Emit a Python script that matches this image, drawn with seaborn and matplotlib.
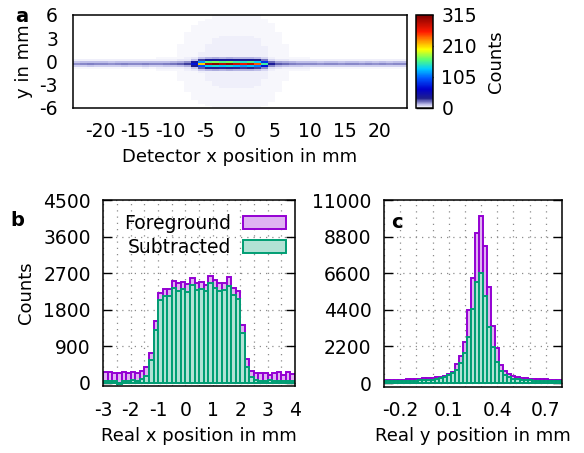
import numpy as np
import pandas as pd
import matplotlib
matplotlib.use("Agg")
import matplotlib.pyplot as plt
import seaborn as sns
from matplotlib.colors import LinearSegmentedColormap
from matplotlib.patches import Patch

sns.set_style("white")
plt.rcParams["font.family"] = ["DejaVu Sans"]
for k in ["text.color", "axes.labelcolor", "xtick.color", "ytick.color", "axes.edgecolor"]:
    plt.rcParams[k] = "black"
FS = 13
TS = 13.5
plt.rcParams["font.size"] = FS

# ---------------- panel a : detector image ----------------
a_x_lim = (-24, 24)
a_y_lim = (-6, 6)
a_xticks = [-20, -15, -10, -5, 0, 5, 10, 15, 20]
a_yticks = [-6, -3, 0, 3, 6]
cbar_ticks = [0, 105, 210, 315]
# peak counts along the beam stripe, 1 mm columns from -24 to 24
line_counts = [16, 17, 18, 17, 17, 16, 17, 18, 17, 17, 19, 17, 17, 18, 19, 21, 26,
               70, 210, 290, 305, 285, 300, 275, 260, 280, 240, 150, 35,
               22, 20, 18, 17, 17, 17, 16, 17, 17, 16, 17, 17, 16, 17, 16, 17, 16, 17, 17]
# relative stripe profile, 0.25 mm rows from -6 (bottom) to 6 (top)
stripe_rows = [0] * 19 + [0.03, 0.1, 0.45, 1.0, 0.55, 0.12, 0.03] + [0] * 22
# faint diffuse background
halo_cols = [0.6, 0.6, 0.6, 0.6, 0.6, 0.6, 0.6, 0.6, 0.6, 0.6, 0.6, 0.7, 0.8, 1.0, 1.2, 1.5,
             1.8, 2.2, 2.6, 3.0, 3.2, 3.4, 3.4, 3.4, 3.4, 3.4, 3.2, 2.8, 2.3, 1.8, 1.5, 1.2,
             1.0, 0.8, 0.7, 0.6, 0.6, 0.6, 0.6, 0.6, 0.6, 0.6, 0.6, 0.6, 0.6, 0.6, 0.6, 0.6]
halo_rows = [0.4, 0.45, 0.5, 0.55, 0.6, 0.62, 0.65, 0.68, 0.7, 0.72, 0.75, 0.78,
             0.8, 0.82, 0.85, 0.88, 0.9, 0.92, 0.95, 1, 1, 1, 1, 1,
             1, 1, 1, 1, 0.95, 0.92, 0.9, 0.88, 0.85, 0.82, 0.8, 0.78,
             0.75, 0.72, 0.7, 0.68, 0.65, 0.62, 0.6, 0.55, 0.5, 0.45, 0.4, 0.4]

# ---------------- panel b : real x ----------------
b_range = (-3, 4)
b_nbins = 42
b_fore = [255, 255, 240, 240, 255, 240, 275, 240, 292, 385, 730, 1510, 2205, 2300,
          2300, 2510, 2450, 2475, 2430, 2575, 2450, 2475, 2410, 2630, 2520, 2450,
          2450, 2615, 2330, 2260, 1420, 580, 300, 250, 240, 240, 200, 240, 255, 200,
          255, 220]
b_sub = [50, 50, 45, -40, 55, 50, 75, 55, 90, 170, 555, 1310, 2040, 2140, 2125,
         2330, 2270, 2300, 2245, 2395, 2290, 2300, 2260, 2450, 2330, 2270, 2290,
         2385, 2165, 2060, 1220, 390, 150, 70, 55, 55, 60, 50, 45, 55, 50, 45]
b_xticks = [-3, -2, -1, 0, 1, 2, 3, 4]
b_yticks = [0, 900, 1800, 2700, 3600, 4500]

# ---------------- panel c : real y ----------------
c_first_center = -0.3
c_binwidth = 0.025
c_fore = [160, 170, 180, 190, 200, 210, 220, 235, 250, 265, 280, 300, 320, 350, 390,
          440, 540, 680, 1120, 1620, 2480, 4390, 6290, 9040, 10050, 8240, 5750, 3400,
          2100, 1100, 700, 520, 420, 360, 320, 290, 270, 250, 240, 230, 215, 200, 190,
          180, 170]
c_sub = [100, 105, 110, 115, 120, 125, 130, 140, 150, 160, 175, 190, 210, 240, 280,
         380, 480, 580, 780, 1180, 1820, 2790, 4430, 6090, 6590, 5230, 3390, 2180,
         1280, 740, 480, 340, 260, 220, 190, 170, 160, 150, 140, 135, 130, 125, 120,
         115, 110]
c_xlim = (-0.3, 0.8)
c_xticks = [-0.2, 0.1, 0.4, 0.7]
c_yticks = [0, 2200, 4400, 6600, 8800, 11000]

purple = "#9400d3"
purple_face = "#dfb2f2"
green = "#009e73"
green_face = "#b2e2d5"

fig = plt.figure(figsize=(5.84, 4.53), dpi=100)
W, H = 584, 453


def ax_px(x0, y0, x1, y1):
    return fig.add_axes([x0 / W, 1 - y1 / H, (x1 - x0) / W, (y1 - y0) / H])


# ---- panel a
axa = ax_px(72.7, 15, 407.3, 107.7)
cax = ax_px(416, 15, 433, 107.7)
cmap = LinearSegmentedColormap.from_list("det", [
    (0.0, (1, 1, 1)), (0.03, (0.76, 0.76, 0.92)), (0.1, (0.12, 0.12, 0.55)),
    (0.2, (0.0, 0.0, 0.8)), (0.32, (0.0, 0.35, 1.0)), (0.42, (0.0, 0.8, 1.0)),
    (0.52, (0.35, 1.0, 0.45)), (0.63, (1.0, 1.0, 0.0)), (0.72, (1.0, 0.6, 0.0)),
    (0.82, (1.0, 0.1, 0.0)), (1.0, (0.5, 0.0, 0.0))])

x_edges = np.arange(a_x_lim[0], a_x_lim[1] + 0.5, 1.0)
y_edges = np.arange(a_y_lim[0], a_y_lim[1] + 0.125, 0.25)
xc = (x_edges[:-1] + x_edges[1:]) / 2
yc = (y_edges[:-1] + y_edges[1:]) / 2
Z = np.outer(stripe_rows, line_counts) + np.outer(halo_rows, halo_cols)
XX, YY = np.meshgrid(xc, yc)
dfa = pd.DataFrame({"x": XX.ravel(), "y": YY.ravel(), "w": Z.ravel()})
sns.histplot(data=dfa, x="x", y="y", weights="w", bins=[x_edges, y_edges],
             cmap=cmap, vmin=0, vmax=315, cbar=True, cbar_ax=cax, ax=axa)
axa.set_xlim(*a_x_lim)
axa.set_ylim(*a_y_lim)
axa.set_xticks(a_xticks)
axa.set_xticklabels([str(v) for v in a_xticks])
axa.set_yticks(a_yticks)
axa.set_yticklabels([str(v) for v in a_yticks])
axa.tick_params(axis="y", direction="out", length=5.5, width=1, labelsize=TS, pad=5)
axa.tick_params(axis="x", direction="out", length=6.5, width=1, labelsize=TS, pad=4)
axa.set_xlabel("Detector x position in mm", fontsize=FS, labelpad=5)
axa.set_ylabel("y in mm", fontsize=FS, labelpad=5)
for s in axa.spines.values():
    s.set_linewidth(1.1)
    s.set_color("black")
cax.set_yticks(cbar_ticks)
cax.set_yticklabels([str(v) for v in cbar_ticks])
cax.tick_params(direction="in", length=12.2, width=1, labelsize=TS, pad=6)
cax.set_ylabel("Counts", fontsize=FS, labelpad=7)
for s in cax.spines.values():
    s.set_linewidth(1.1)
    s.set_color("black")
fig.text(22 / W, 1 - 16 / H, "a", fontsize=FS + 1, fontweight="bold", ha="center", va="center")


def style_hist(ax):
    for s in ax.spines.values():
        s.set_linewidth(1.1)
        s.set_color("black")
    ax.tick_params(axis="y", which="both", direction="in", length=6.5, width=1,
                   right=True, left=True, labelsize=TS, pad=9)
    ax.tick_params(axis="x", which="both", direction="out", length=3.5, width=1,
                   labelsize=TS, pad=7)
    ax.grid(True, which="major", axis="y", color="#8c8c8c", linestyle=(0, (1, 4)), linewidth=0.9)
    ax.grid(True, which="both", axis="x", color="#8c8c8c", linestyle=(0, (1, 4)), linewidth=0.9)
    ax.set_axisbelow(True)


# ---- panel b
axb = ax_px(103.3, 200, 295, 386)
bw = (b_range[1] - b_range[0]) / b_nbins
b_centers = b_range[0] + bw * (np.arange(b_nbins) + 0.5)
dfb = pd.DataFrame({"x": b_centers, "fore": b_fore, "sub": b_sub})
sns.histplot(data=dfb, x="x", weights="fore", bins=b_nbins, binrange=b_range,
             color=purple_face, edgecolor=purple, linewidth=1.4, alpha=1, ax=axb)
sns.histplot(data=dfb, x="x", weights="sub", bins=b_nbins, binrange=b_range,
             color=green_face, edgecolor=green, linewidth=1.4, alpha=1, ax=axb)
axb.set_xlim(*b_range)
axb.set_ylim(-80, 4500)
axb.set_xticks(b_xticks)
axb.set_xticklabels([str(v) for v in b_xticks])
axb.set_xticks(np.arange(b_range[0], b_range[1] + 0.01, 0.5), minor=True)
axb.set_yticks(b_yticks)
axb.set_yticklabels([str(v) for v in b_yticks])
style_hist(axb)
axb.set_xlabel("Real x position in mm", fontsize=FS, labelpad=5)
axb.set_ylabel("Counts", fontsize=FS, labelpad=6)
handles = [Patch(facecolor=purple_face, edgecolor=purple, linewidth=1.4),
           Patch(facecolor=green_face, edgecolor=green, linewidth=1.4)]
axb.legend(handles, ["Foreground", "Subtracted"], loc="upper right",
           bbox_to_anchor=(1.0, 0.975), frameon=False,
           markerfirst=False, fontsize=TS, handlelength=2.3, handleheight=0.7,
           borderaxespad=0.3, labelspacing=0.25, handletextpad=0.6, borderpad=0.2)
fig.text(17 / W, 1 - 220 / H, "b", fontsize=FS + 1, fontweight="bold", ha="center", va="center")

# ---- panel c
axc = ax_px(384, 200, 562, 386.7)
c_centers = c_first_center + c_binwidth * np.arange(len(c_fore))
dfc = pd.DataFrame({"y": c_centers, "fore": c_fore, "sub": c_sub})
c_range = (c_centers[0] - c_binwidth / 2, c_centers[-1] + c_binwidth / 2)
sns.histplot(data=dfc, x="y", weights="fore", bins=len(c_fore), binrange=c_range,
             color=purple_face, edgecolor=purple, linewidth=1.4, alpha=1, ax=axc)
sns.histplot(data=dfc, x="y", weights="sub", bins=len(c_fore), binrange=c_range,
             color=green_face, edgecolor=green, linewidth=1.4, alpha=1, ax=axc)
axc.set_xlim(*c_xlim)
axc.set_ylim(-220, 11000)
axc.set_xticks(c_xticks)
axc.set_xticklabels([f"{v:.1f}" for v in c_xticks])
axc.set_xticks(np.arange(-0.3, 0.801, 0.1), minor=True)
axc.set_yticks(c_yticks)
axc.set_yticklabels([str(v) for v in c_yticks])
style_hist(axc)
axc.set_xlabel("Real y position in mm", fontsize=FS, labelpad=5)
axc.set_ylabel("")
axc.text(0.075, 0.88, "c", transform=axc.transAxes, fontsize=FS + 1, fontweight="bold",
         ha="center", va="center")

fig.savefig("out.png", dpi=100)
